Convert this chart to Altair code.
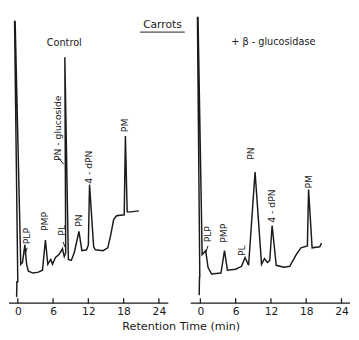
import altair as alt
import pandas as pd

# ---- data (retention time in min, detector signal in arbitrary units) ----
ctrl_t = [-0.25, -0.2, -0.15, 0.0, -0.55, -0.45, 0.5, 0.8, 1.2, 1.5, 1.8, 2.6, 3.5, 4.2, 4.7,
          5.1, 5.6, 5.9, 6.4, 7.0, 7.6, 7.9, 8.15, 8.0, 8.6, 9.1, 9.6, 10.4, 10.9, 11.7, 12.0,
          12.2, 12.9, 13.2, 14.5, 15.3, 15.8, 16.3, 16.8, 18.1, 18.3, 18.6, 19.3, 20.6]
ctrl_v = [7, 7, 22, 22, 290, 290, 40, 42, 60, 40, 33, 31, 32, 34, 65,
          40, 45, 40, 47, 50, 56, 48, 52, 253, 45, 44, 52, 74, 54, 55, 60,
          122, 58, 55, 54, 57, 70, 86, 90, 91, 172, 94, 94, 95]

enz_t = [-0.3, -0.2, -0.15, -0.1, -0.5, -0.4, 0.3, 0.9, 1.3, 1.9, 3.5, 4.1, 4.6, 6.0, 7.0,
         7.6, 8.2, 9.3, 10.4, 10.9, 11.4, 11.8, 12.2, 12.9, 14.2, 15.2, 16.3, 17.1, 18.2,
         18.4, 19.0, 20.3, 20.6]
enz_v = [9, 9, 27, 27, 294, 294, 50, 54, 37, 30, 31, 54, 34, 35, 38,
         47, 39, 135, 40, 46, 42, 44, 80, 39, 37, 38, 50, 57, 59,
         117, 57, 58, 62]

ctrl_lab = ["PLP", "PMP", "PL", "PN - glucoside", "PN", "4 - dPN", "PM"]
ctrl_lab_t = [1.65, 4.6, 7.6, 6.8, 10.4, 12.2, 18.2]
ctrl_lab_v = [69, 84, 75, 180, 85, 140, 183]

enz_lab = ["PLP", "PMP", "PL", "PN", "4 - dPN", "PM"]
enz_lab_t = [1.3, 4.1, 7.1, 8.6, 12.2, 18.5]
enz_lab_v = [71, 72, 54, 154, 100, 125]

# leader hooks (label -> peak)
ctrl_lead_id = ["a", "a", "b", "b", "c", "c"]
ctrl_lead_t = [1.6, 1.2, 7.7, 8.1, 6.9, 7.8]
ctrl_lead_v = [57, 50, 63, 57, 150, 143]
enz_lead_id = ["a", "a"]
enz_lead_t = [1.3, 0.9]
enz_lead_v = [59, 52]

tick_vals = [0, 6, 12, 18, 24]

FONT = "DejaVu Sans"
INK = "#1a1a1a"

XAXIS = alt.Axis(values=tick_vals, ticks=False, grid=False, title=None,
                 labelFontSize=11, labelFont=FONT, labelColor=INK,
                 domain=False, labelPadding=3, labelFlush=False)


def xq(domain, field="t"):
    return alt.X(f"{field}:Q", scale=alt.Scale(domain=domain, nice=False, zero=False), axis=XAXIS)


def yq(field="v"):
    return alt.Y(f"{field}:Q", scale=alt.Scale(domain=[0, 299], nice=False, zero=False), axis=None)


def panel(tt, vv, lab, lab_t, lab_v, lead_id, lead_t, lead_v, domain, extras):
    trace = pd.DataFrame({"t": tt, "v": vv, "i": range(len(tt))})
    line = alt.Chart(trace).mark_line(color=INK, strokeWidth=1.5).encode(
        x=xq(domain), y=yq(), order="i:Q")
    baseline = alt.Chart(pd.DataFrame({"v": [0]})).mark_rule(color=INK, strokeWidth=1.3).encode(
        x=alt.value(0), x2=alt.value(164), y=yq())
    ticks = alt.Chart(pd.DataFrame({"t": tick_vals, "v0": [0] * 5, "v1": [5] * 5})).mark_rule(
        color=INK, strokeWidth=1.3).encode(x=xq(domain), y=yq("v0"), y2="v1:Q")
    labels = alt.Chart(pd.DataFrame({"lab": lab, "t": lab_t, "v": lab_v})).mark_text(
        angle=270, align="center", baseline="middle", fontSize=9.5, font=FONT, color=INK).encode(
        x=xq(domain), y=yq(), text="lab:N")
    leads = alt.Chart(pd.DataFrame({"g": lead_id, "t": lead_t, "v": lead_v})).mark_line(
        color=INK, strokeWidth=1).encode(x=xq(domain), y=yq(), detail="g:N")
    layers = [line, baseline, ticks, labels, leads]
    for txt, t, v, size in extras:
        layers.append(alt.Chart(pd.DataFrame({"s": [txt], "t": [t], "v": [v]})).mark_text(
            align="center", baseline="middle", fontSize=size, font=FONT, color=INK).encode(
            x=xq(domain), y=yq(), text="s:N"))
    return layers


L_DOM = [-1.5, 25.6]
R_DOM = [-1.65, 25.45]

left_extras = [("Control", 7.9, 268, 10), ("Carrots", 24.6, 286, 11),
               ("Retention Time (min)", 27.8, -25, 11.5)]
right_extras = [("+ β - glucosidase", 12.4, 269, 10)]

left_layers = panel(ctrl_t, ctrl_v, ctrl_lab, ctrl_lab_t, ctrl_lab_v,
                    ctrl_lead_id, ctrl_lead_t, ctrl_lead_v, L_DOM, left_extras)
underline = alt.Chart(pd.DataFrame({"t": [20.8], "t2": [28.4], "v": [279]})).mark_rule(
    color=INK, strokeWidth=1).encode(x=xq(L_DOM), x2="t2:Q", y=yq())
left = alt.layer(*left_layers, underline).properties(width=164, height=299)

right = alt.layer(*panel(enz_t, enz_v, enz_lab, enz_lab_t, enz_lab_v,
                         enz_lead_id, enz_lead_t, enz_lead_v, R_DOM, right_extras)
                  ).properties(width=164, height=299)

chart = alt.hconcat(left, right, spacing=23, bounds="flush").properties(
    padding=0, background="white"
).configure_view(stroke=None)

chart.save("out.html", embed_options={"renderer": "svg", "actions": False})
